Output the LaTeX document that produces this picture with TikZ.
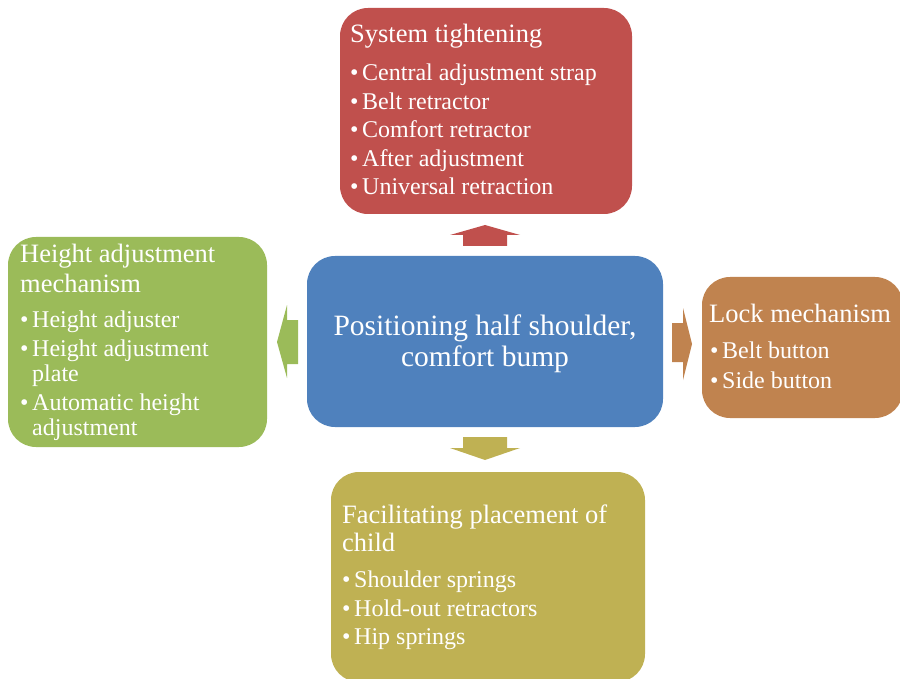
\documentclass[tikz,border=0pt]{standalone}
\usepackage{fontspec}
\setmainfont{Liberation Serif}
\usetikzlibrary{calc}
\definecolor{cRed}{HTML}{C0504D}
\definecolor{cBlue}{HTML}{4F81BD}
\definecolor{cGreen}{HTML}{9BBB59}
\definecolor{cOrange}{HTML}{C0834F}
\definecolor{cOlive}{HTML}{BFB153}
\newcommand{\bl}{\makebox[12pt][l]{\textbullet}}
\newcommand{\ind}{\hspace*{12pt}}
\tikzset{
  box/.style={rectangle, rounded corners=28pt, draw=none, inner sep=0pt, outer sep=0pt},
  ttl/.style={text=white, inner sep=0pt, anchor=base west, font=\fontsize{26.5}{29}\selectfont},
  itm/.style={text=white, inner sep=0pt, anchor=base west, font=\fontsize{24}{25}\selectfont},
  ctxt/.style={text=white, inner sep=0pt, anchor=base, font=\fontsize{29.5}{31}\selectfont},
}
\begin{document}
\begin{tikzpicture}[x=1pt,y=-1pt]
\useasboundingbox (0,0) rectangle (900,679);
\clip (0,0) rectangle (900,679);

% boxes
\node[box, fill=cRed,    minimum width=292pt, minimum height=206pt] (sys)  at (486,111)   {};
\node[box, fill=cBlue,   minimum width=356pt, minimum height=171pt] (ctr)  at (485,341.5) {};
\node[box, fill=cGreen,  minimum width=259pt, minimum height=210pt] (hgt)  at (137.5,342) {};
\node[box, fill=cOrange, minimum width=201pt, minimum height=141pt] (lock) at (802.5,347.5) {};
\node[box, fill=cOlive,  minimum width=314pt, minimum height=210pt] (fac)  at (488,577)   {};

% block arrows from the centre box outwards
\fill[cRed] ($(ctr.north)+(-22,-10)$) -- ($(ctr.north)+(-22,-21)$) -- ($(ctr.north)+(-35,-21)$)
  -- ($(sys.south)+(-1,11)$) -- ($(ctr.north)+(35,-21)$) -- ($(ctr.north)+(22,-21)$)
  -- ($(ctr.north)+(22,-10)$) -- cycle;
\fill[cOlive] ($(ctr.south)+(-22,10)$) -- ($(ctr.south)+(-22,21)$) -- ($(ctr.south)+(-35,21)$)
  -- ($(fac.north)+(-3,-12)$) -- ($(ctr.south)+(35,21)$) -- ($(ctr.south)+(22,21)$)
  -- ($(ctr.south)+(22,10)$) -- cycle;
\fill[cGreen] ($(ctr.west)+(-9,-21.5)$) -- ($(ctr.west)+(-20,-21.5)$) -- ($(ctr.west)+(-20,-36.5)$)
  -- ($(hgt.east)+(10,0)$) -- ($(ctr.west)+(-20,36.5)$) -- ($(ctr.west)+(-20,22.5)$)
  -- ($(ctr.west)+(-9,22.5)$) -- cycle;
\fill[cOrange] ($(ctr.east)+(9,-18.5)$) -- ($(ctr.east)+(20,-18.5)$) -- ($(ctr.east)+(20,-33.5)$)
  -- ($(lock.west)+(-10,-3.5)$) -- ($(ctr.east)+(20,38.5)$) -- ($(ctr.east)+(20,20.5)$)
  -- ($(ctr.east)+(9,20.5)$) -- cycle;

% centre text
\node[ctxt] (c1) at (485,335) {Positioning half shoulder,};
\node[ctxt] (c2) at (485,366) {comfort bump};

% system tightening
\node[ttl] (s0) at (350,43) {System tightening};
\node[itm] (s1) at (350,81)    {\bl Central adjustment strap};
\node[itm] (s2) at (350,109.5) {\bl Belt retractor};
\node[itm] (s3) at (350,138)   {\bl Comfort retractor};
\node[itm] (s4) at (350,166.5) {\bl After adjustment};
\node[itm] (s5) at (350,194.5) {\bl Universal retraction};

% height adjustment mechanism
\node[ttl] (h0) at (20,263) {Height adjustment};
\node[ttl] (h1) at (20,292) {mechanism};
\node[itm] (h2) at (20,327) {\bl Height adjuster};
\node[itm] (h3) at (20,356) {\bl Height adjustment};
\node[itm] (h4) at (20,381) {\ind plate};
\node[itm] (h5) at (20,410) {\bl Automatic height};
\node[itm] (h6) at (20,435) {\ind adjustment};

% lock mechanism
\node[ttl] (l0) at (709,323) {Lock mechanism};
\node[itm] (l1) at (710,358) {\bl Belt button};
\node[itm] (l2) at (710,388) {\bl Side button};

% facilitating placement of child
\node[ttl] (f0) at (342,523) {Facilitating placement of};
\node[ttl] (f1) at (342,551) {child};
\node[itm] (f2) at (342,587) {\bl Shoulder springs};
\node[itm] (f3) at (342,616) {\bl Hold-out retractors};
\node[itm] (f4) at (342,644) {\bl Hip springs};
\end{tikzpicture}
\end{document}
